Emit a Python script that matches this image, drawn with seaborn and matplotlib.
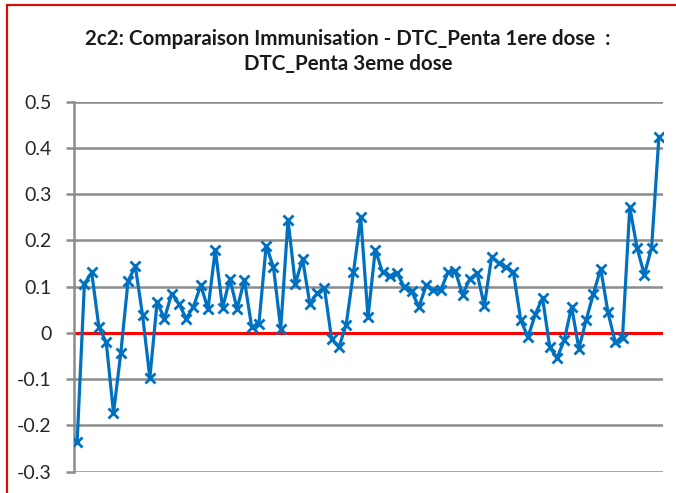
import matplotlib.pyplot as plt
import matplotlib.patches as mpatches
import numpy as np
import pandas as pd
import seaborn as sns

# Values (one point per district / period)
TITLE = "2c2: Comparaison Immunisation - DTC_Penta 1ere dose  :\nDTC_Penta 3eme dose"
RATIO = [
    -0.236, 0.106, 0.131, 0.012, -0.020, -0.173, -0.044, 0.112, 0.144, 0.038,
    -0.097, 0.067, 0.031, 0.085, 0.063, 0.031, 0.057, 0.103, 0.052, 0.180,
    0.054, 0.117, 0.052, 0.115, 0.013, 0.020, 0.189, 0.142, 0.009, 0.245,
    0.106, 0.160, 0.063, 0.086, 0.098, -0.013, -0.031, 0.018, 0.131, 0.250,
    0.034, 0.180, 0.131, 0.124, 0.129, 0.099, 0.090, 0.056, 0.103, 0.092,
    0.093, 0.131, 0.134, 0.083, 0.117, 0.129, 0.059, 0.164, 0.151, 0.142,
    0.131, 0.028, -0.009, 0.040, 0.076, -0.031, -0.054, -0.015, 0.057, -0.034,
    0.028, 0.085, 0.139, 0.045, -0.020, -0.010, 0.272, 0.184, 0.126, 0.184,
    0.423,
]
Y_TICKS = [-0.3, -0.2, -0.1, 0, 0.1, 0.2, 0.3, 0.4, 0.5]
Y_LABELS = ["-0.3", "-0.2", "-0.1", "0", "0.1", "0.2", "0.3", "0.4", "0.5"]

BLUE = "#0070C0"
GRID = "#8c8c8c"

sns.set_style("white")
plt.rcParams["font.family"] = ["Lato", "DejaVu Sans"]

df = pd.DataFrame({"idx": np.arange(len(RATIO)), "ratio": RATIO})

fig = plt.figure(figsize=(6.76, 4.93), dpi=100)
ax = fig.add_axes([73.5 / 676, 1 - 471.7 / 493, (662.5 - 73.5) / 676, (471.7 - 101.7) / 493])

# horizontal gridlines
for t in Y_TICKS:
    ax.axhline(t, color=GRID, lw=1.8, zorder=0)

# zero line (category axis, drawn in red)
ax.axhline(0, color="#ff0000", lw=2.2, zorder=1)

sns.lineplot(
    data=df,
    x="idx",
    y="ratio",
    color=BLUE,
    linewidth=2.3,
    marker="x",
    markersize=7.5,
    markeredgewidth=2,
    markeredgecolor=BLUE,
    ax=ax,
    zorder=3,
)

ax.set_xlim(-0.5, len(RATIO) - 0.5)
ax.set_ylim(-0.3, 0.5)
ax.set_yticks(Y_TICKS)
ax.set_yticklabels(Y_LABELS, fontsize=14, color="#262626")
ax.set_xticks([])
ax.set_xlabel("")
ax.set_ylabel("")
ax.tick_params(axis="y", length=6, width=1.8, color=GRID, pad=10, left=True)

for side in ["top", "right", "bottom"]:
    ax.spines[side].set_visible(False)
ax.spines["left"].set_color(GRID)
ax.spines["left"].set_linewidth(1.8)

fig.text(348 / 676, 1 - 51.5 / 493, TITLE, ha="center", va="center",
         fontsize=14.8, fontweight="bold", color="#1a1a1a", linespacing=1.3)

# red chart border (left and top visible, rest cut off)
fig.patches.append(mpatches.Rectangle((7 / 676, -0.1), 1.2, 1 - 5 / 493 + 0.1,
                                      transform=fig.transFigure, fill=False,
                                      edgecolor="#d01010", lw=1.6))

fig.savefig("out.png", dpi=100)
